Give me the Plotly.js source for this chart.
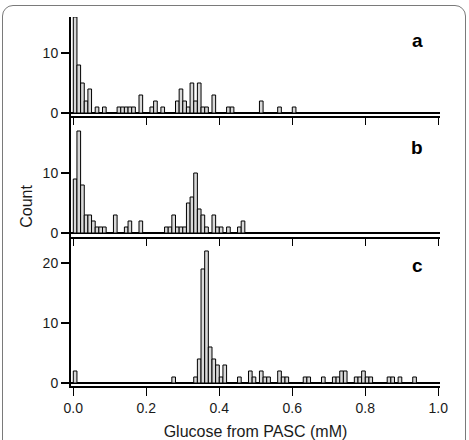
<!DOCTYPE html>
<html>
<head>
<meta charset="utf-8">
<script src="https://cdn.plot.ly/plotly-3.0.1.min.js"></script>
<style>
  html, body { margin: 0; padding: 0; overflow: hidden; background: #fff; }
  #wrap { position: relative; width: 469px; height: 440px; }
  #chart { width: 469px; height: 440px; }
  #frame {
    position: absolute; left: 2px; top: 5px; width: 462px; height: 450px;
    border: 1.5px solid #7a7a7a; border-radius: 11px; pointer-events: none;
  }
</style>
</head>
<body>
<div id="wrap">
  <div id="chart"></div>
  <div id="frame"></div>
</div>
<script>
// Histogram bins: left edge of each 0.01 mM bin and its count
const binWidth = 0.01;

const binsA = [0.00, 0.01, 0.02, 0.03, 0.04, 0.06, 0.08, 0.12, 0.13, 0.14, 0.15, 0.16,
               0.18, 0.21, 0.22, 0.24, 0.28, 0.29, 0.30, 0.31, 0.32, 0.33, 0.34, 0.35,
               0.36, 0.38, 0.42, 0.43, 0.51, 0.56, 0.60];
const countsA = [16, 8, 5, 2, 4, 1, 1, 1, 1, 1, 1, 1,
                 3, 1, 2, 1, 2, 4, 2, 1, 5, 2, 5, 1,
                 1, 3, 1, 1, 2, 1, 1];

const binsB = [0.00, 0.01, 0.02, 0.03, 0.04, 0.05, 0.06, 0.07, 0.08, 0.11, 0.14, 0.15,
               0.18, 0.25, 0.26, 0.27, 0.28, 0.29, 0.30, 0.31, 0.32, 0.33, 0.34, 0.35,
               0.36, 0.38, 0.39, 0.40, 0.42, 0.45, 0.46];
const countsB = [9, 17, 8, 3, 3, 2, 1, 1, 1, 3, 1, 2,
                 2, 1, 1, 3, 1, 1, 1, 5, 6, 10, 4, 3,
                 1, 3, 1, 1, 1, 1, 2];

const binsC = [0.00, 0.27, 0.33, 0.34, 0.35, 0.36, 0.37, 0.38, 0.39, 0.40, 0.41, 0.45,
               0.48, 0.49, 0.51, 0.52, 0.53, 0.56, 0.57, 0.58, 0.63, 0.64, 0.68, 0.71,
               0.72, 0.73, 0.74, 0.77, 0.78, 0.79, 0.80, 0.81, 0.86, 0.87, 0.89, 0.93];
const countsC = [2, 1, 1, 4, 19, 22, 6, 4, 3, 1, 3, 1,
                 2, 1, 2, 1, 1, 2, 1, 1, 1, 1, 1, 1,
                 1, 2, 2, 1, 1, 2, 1, 1, 1, 1, 1, 1];

const panelLabels = ['a', 'b', 'c'];
const xTicks = [0, 0.2, 0.4, 0.6, 0.8, 1.0];
const xTitle = 'Glucose from PASC (mM)';
const yTitle = 'Count';

const FONT = 'Arial, "Liberation Sans", Helvetica, sans-serif';
const INK = '#1a1a1a';

function histTrace(bins, counts, axisIdx) {
  const sfx = axisIdx === 1 ? '' : String(axisIdx);
  return {
    type: 'bar',
    x: bins,
    y: counts,
    width: binWidth,
    offset: 0,
    xaxis: 'x' + sfx,
    yaxis: 'y' + sfx,
    marker: { color: '#d9d9d9', line: { color: '#000', width: 1 } },
    hoverinfo: 'x+y',
    showlegend: false
  };
}

const data = [
  histTrace(binsA, countsA, 1),
  histTrace(binsB, countsB, 2),
  histTrace(binsC, countsC, 3)
];

const xRange = [-0.0063, 1.0047];

function xAxis(anchor, showLabels, tickLen) {
  return {
    anchor: anchor,
    range: xRange,
    domain: [0, 1],
    showline: true, linecolor: '#000', linewidth: 2,
    ticks: 'outside', ticklen: tickLen, tickwidth: 1.5, tickcolor: '#000',
    tickvals: xTicks,
    tickformat: '.1f',
    showticklabels: showLabels,
    tickfont: { family: FONT, size: 14, color: INK },
    showgrid: false, zeroline: false, fixedrange: true
  };
}

function yAxis(anchor, domain, range) {
  return {
    anchor: anchor,
    domain: domain,
    range: range,
    showline: true, linecolor: '#000', linewidth: 2,
    ticks: 'outside', ticklen: 8, tickwidth: 1.5, tickcolor: '#000',
    tick0: 0, dtick: 10,
    tickfont: { family: FONT, size: 14, color: INK },
    showgrid: false,
    zeroline: true, zerolinecolor: '#000', zerolinewidth: 2,
    fixedrange: true
  };
}

const xa3 = xAxis('y3', true, 8);
xa3.title = { text: xTitle, font: { family: FONT, size: 16, color: INK }, standoff: 11 };

function panelLabel(text, y) {
  return {
    text: text, xref: 'paper', yref: 'paper', x: 0.9377, y: y,
    xanchor: 'center', yanchor: 'middle', showarrow: false,
    font: { family: FONT, size: 19, color: '#000', weight: 'bold' }
  };
}

const layout = {
  width: 469, height: 440,
  margin: { l: 71, r: 29, t: 17, b: 54 },
  paper_bgcolor: '#fff', plot_bgcolor: '#fff',
  bargap: 0,
  xaxis: xAxis('y', false, 7),
  xaxis2: xAxis('y2', false, 7),
  xaxis3: xa3,
  yaxis: yAxis('x', [0.7317, 1], [-0.5, 16]),
  yaxis2: yAxis('x2', [0.4038, 0.7317], [-0.667, 19.5]),
  yaxis3: yAxis('x3', [0, 0.4038], [-0.5, 24.33]),
  annotations: [
    panelLabel(panelLabels[0], 0.937),
    panelLabel(panelLabels[1], 0.647),
    panelLabel(panelLabels[2], 0.327),
    { text: yTitle, xref: 'paper', yref: 'paper', x: -0.119, y: 0.486,
      xanchor: 'center', yanchor: 'middle', textangle: -90, showarrow: false,
      font: { family: FONT, size: 16, color: INK } }
  ]
};

Plotly.newPlot('chart', data, layout, { displayModeBar: false, staticPlot: true });
</script>
</body>
</html>
